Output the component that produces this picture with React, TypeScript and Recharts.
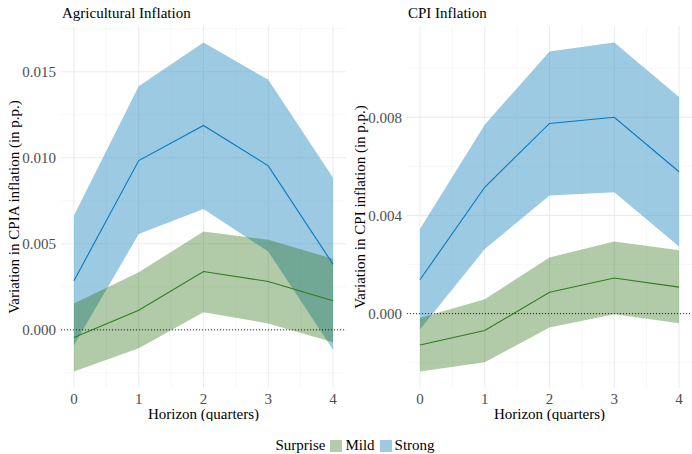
import { ComposedChart, Area, Line, XAxis, YAxis, CartesianGrid, ReferenceLine } from 'recharts';

const horizon = [0, 1, 2, 3, 4];

// Agricultural inflation panel
const agStrongLow = [-0.0009, 0.00557, 0.00703, 0.00455, -0.00115];
const agStrongMid = [0.00285, 0.00984, 0.01188, 0.00953, 0.00381];
const agStrongHigh = [0.00664, 0.01416, 0.0167, 0.01453, 0.00884];
const agMildLow = [-0.00242, -0.00107, 0.00102, 0.00037, -0.00072];
const agMildMid = [-0.00045, 0.00114, 0.00339, 0.00281, 0.00169];
const agMildHigh = [0.00153, 0.00335, 0.00571, 0.00523, 0.00413];

// CPI inflation panel
const cpiStrongLow = [-0.00065, 0.00263, 0.00481, 0.00495, 0.00274];
const cpiStrongMid = [0.00138, 0.00515, 0.00775, 0.008, 0.00578];
const cpiStrongHigh = [0.00345, 0.0077, 0.01068, 0.01105, 0.00883];
const cpiMildLow = [-0.00236, -0.00198, -0.00056, -0.00002, -0.00039];
const cpiMildMid = [-0.00128, -0.00069, 0.00087, 0.00145, 0.00108];
const cpiMildHigh = [-0.00018, 0.00059, 0.00229, 0.00294, 0.00258];

const agTicks = [0, 0.005, 0.01, 0.015];
const agMinor = [-0.0025, 0.0025, 0.0075, 0.0125, 0.0175];
const cpiTicks = [0, 0.004, 0.008];
const cpiMinor = [-0.002, 0.002, 0.006, 0.01];
const xTicks = [0, 1, 2, 3, 4];
const xMinor = [0.5, 1.5, 2.5, 3.5];

const FONT = '"Liberation Serif", "Times New Roman", serif';
const STRONG_FILL = '#3995c5';
const MILD_FILL = '#1f6a06';
const STRONG_LINE = '#0a78bd';
const MILD_LINE = '#2e7d1f';

type PanelProps = {
  title: string;
  yLabel: string;
  domain: [number, number];
  ticks: number[];
  minor: number[];
  strong: number[][];
  mild: number[][];
};

const Panel = ({ title, yLabel, domain, ticks, minor, strong, mild }: PanelProps) => {
  const data = horizon.map((h, i) => ({
    h,
    strongBand: [strong[0][i], strong[2][i]],
    strongMid: strong[1][i],
    mildBand: [mild[0][i], mild[2][i]],
    mildMid: mild[1][i],
  }));

  return (
    <div style={{ position: 'relative', width: 346, height: 421 }}>
      <div style={{ position: 'absolute', left: 62, top: 5, fontSize: 15, color: '#000', lineHeight: '17px' }}>{title}</div>
      <ComposedChart width={346} height={421} data={data} margin={{ top: 26, right: 0, bottom: 0, left: 0 }}>
        <CartesianGrid stroke="#f1f1f1" strokeWidth={0.6} horizontalValues={minor} verticalValues={xMinor} />
        <CartesianGrid stroke="#ebebeb" strokeWidth={1} horizontalValues={ticks} verticalValues={xTicks} />
        <XAxis
          dataKey="h"
          type="number"
          domain={[-0.2, 4.2]}
          ticks={xTicks}
          axisLine={false}
          tickLine={false}
          tickSize={2}
          tickMargin={3}
          height={33}
          tick={{ fill: '#4d4d4d', fontSize: 15, fontFamily: FONT }}
          label={{ value: 'Horizon (quarters)', position: 'insideBottom', offset: 2, fill: '#000', fontSize: 15, fontFamily: FONT }}
        />
        <YAxis
          type="number"
          domain={domain}
          ticks={ticks}
          allowDataOverflow
          axisLine={false}
          tickLine={false}
          tickSize={3}
          tickMargin={2}
          width={61}
          tickFormatter={(v: number) => v.toFixed(3)}
          tick={{ fill: '#4d4d4d', fontSize: 15, fontFamily: FONT }}
          label={{ value: yLabel, angle: -90, position: 'insideLeft', offset: 14, fill: '#000', fontSize: 15, fontFamily: FONT, style: { textAnchor: 'middle' } }}
        />
        <ReferenceLine y={0} stroke="#000" strokeWidth={0.8} strokeDasharray="1 2" />
        <Area type="linear" dataKey="strongBand" stroke="none" fill={STRONG_FILL} fillOpacity={0.5} isAnimationActive={false} />
        <Area type="linear" dataKey="mildBand" stroke="none" fill={MILD_FILL} fillOpacity={0.35} isAnimationActive={false} />
        <Line type="linear" dataKey="strongMid" stroke={STRONG_LINE} strokeWidth={1.1} dot={false} isAnimationActive={false} />
        <Line type="linear" dataKey="mildMid" stroke={MILD_LINE} strokeWidth={1.1} dot={false} isAnimationActive={false} />
      </ComposedChart>
    </div>
  );
};

const LegendKey = ({ color, label }: { color: string; label: string }) => (
  <div style={{ display: 'flex', alignItems: 'center', marginLeft: 5 }}>
    <div style={{ width: 12, height: 12, background: color, marginRight: 3 }} />
    <span>{label}</span>
  </div>
);

export default function App() {
  return (
    <div style={{ position: 'absolute', left: 0, top: 0, width: 692, height: 454, background: '#fff', fontFamily: FONT }}>
      <div style={{ display: 'flex' }}>
        <Panel
          title="Agricultural Inflation"
          yLabel="Variation in CPIA inflation (in p.p.)"
          domain={[-0.00338, 0.01766]}
          ticks={agTicks}
          minor={agMinor}
          strong={[agStrongLow, agStrongMid, agStrongHigh]}
          mild={[agMildLow, agMildMid, agMildHigh]}
        />
        <Panel
          title="CPI Inflation"
          yLabel="Variation in CPI inflation (in p.p.)"
          domain={[-0.00303, 0.01172]}
          ticks={cpiTicks}
          minor={cpiMinor}
          strong={[cpiStrongLow, cpiStrongMid, cpiStrongHigh]}
          mild={[cpiMildLow, cpiMildMid, cpiMildHigh]}
        />
      </div>
      <div style={{ position: 'absolute', top: 437, left: 9, width: 692, display: 'flex', justifyContent: 'center', alignItems: 'center', fontSize: 15, color: '#000' }}>
        <span>Surprise</span>
        <LegendKey color="#b3cdaa" label="Mild" />
        <LegendKey color="#9ccae2" label="Strong" />
      </div>
    </div>
  );
}
